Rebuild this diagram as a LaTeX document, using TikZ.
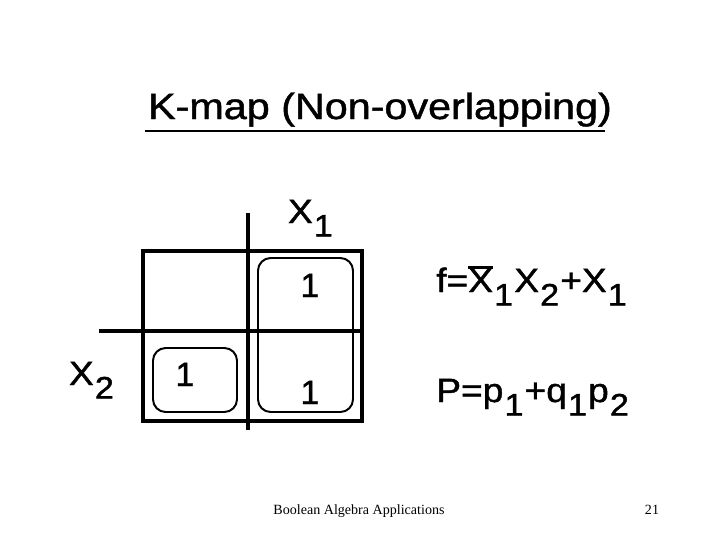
\documentclass[tikz,border=0pt]{standalone}
\usepackage{fontspec}
\setmainfont{Liberation Sans}[FakeBold=1.2]
\newfontfamily\footfont{Liberation Serif}
\usepackage{tikz}

\newcommand\lo[1]{\kern0.03em\raisebox{-0.4em}{\scalebox{0.92}{#1}}\kern0.03em}
\newcommand\notX{\rlap{\rule[0.69em]{0.66em}{0.08em}}X}
\newcommand\wide[1]{\scalebox{1.1}[1]{#1}}

\tikzset{
  big/.style={font=\fontsize{26}{30}\selectfont, inner sep=0pt, anchor=base},
  eq/.style={font=\fontsize{24}{28}\selectfont, inner sep=0pt, anchor=base west},
  one/.style={font=\fontsize{24}{28}\selectfont, inner sep=0pt, anchor=base},
  grp/.style={line width=1.4pt, rounded corners=9pt},
  foot/.style={font=\footfont\fontsize{10}{12}\selectfont, inner sep=0pt, anchor=base}
}

\begin{document}
\begin{tikzpicture}[x=0.025cm,y=-0.025cm]
        \useasboundingbox (0,0) rectangle (720,540);

        \node[big] (title) at (380,119) {\scalebox{1.13}[1]{K-map (Non-overlapping)}};
        \draw[line width=1.5pt] (145,131) -- (605,131);

        \draw[line width=2.3pt] (143,251) rectangle (362,421);
        \draw[line width=2.3pt] (248,213) -- (248,430);
        \draw[line width=2.3pt] (99,331) -- (362,331);

        \node[eq, anchor=base] (xa) at (311,223) {\wide{X\lo{1}}};
        \node[eq, anchor=base] (xb) at (92,385) {\wide{X\lo{2}}};

        \node[one] (m1) at (310,297) {1};
        \node[one] (m3) at (310,404) {1};
        \node[one] (m2) at (185,386) {1};

        \draw[grp] (258,258) rectangle (353,412);
        \draw[grp] (153,348) rectangle (237,412);

        \node[eq] (f) at (436,292) {\wide{f=\notX\lo{1}X\lo{2}+X\lo{1}}};
        \node[eq] (p) at (436,402) {\wide{P=p\lo{1}+q\lo{1}p\lo{2}}};

        \node[foot] (ftitle) at (359,514) {Boolean Algebra Applications};
        \node[foot] (fnum) at (652,514) {21};
\end{tikzpicture}
\end{document}
